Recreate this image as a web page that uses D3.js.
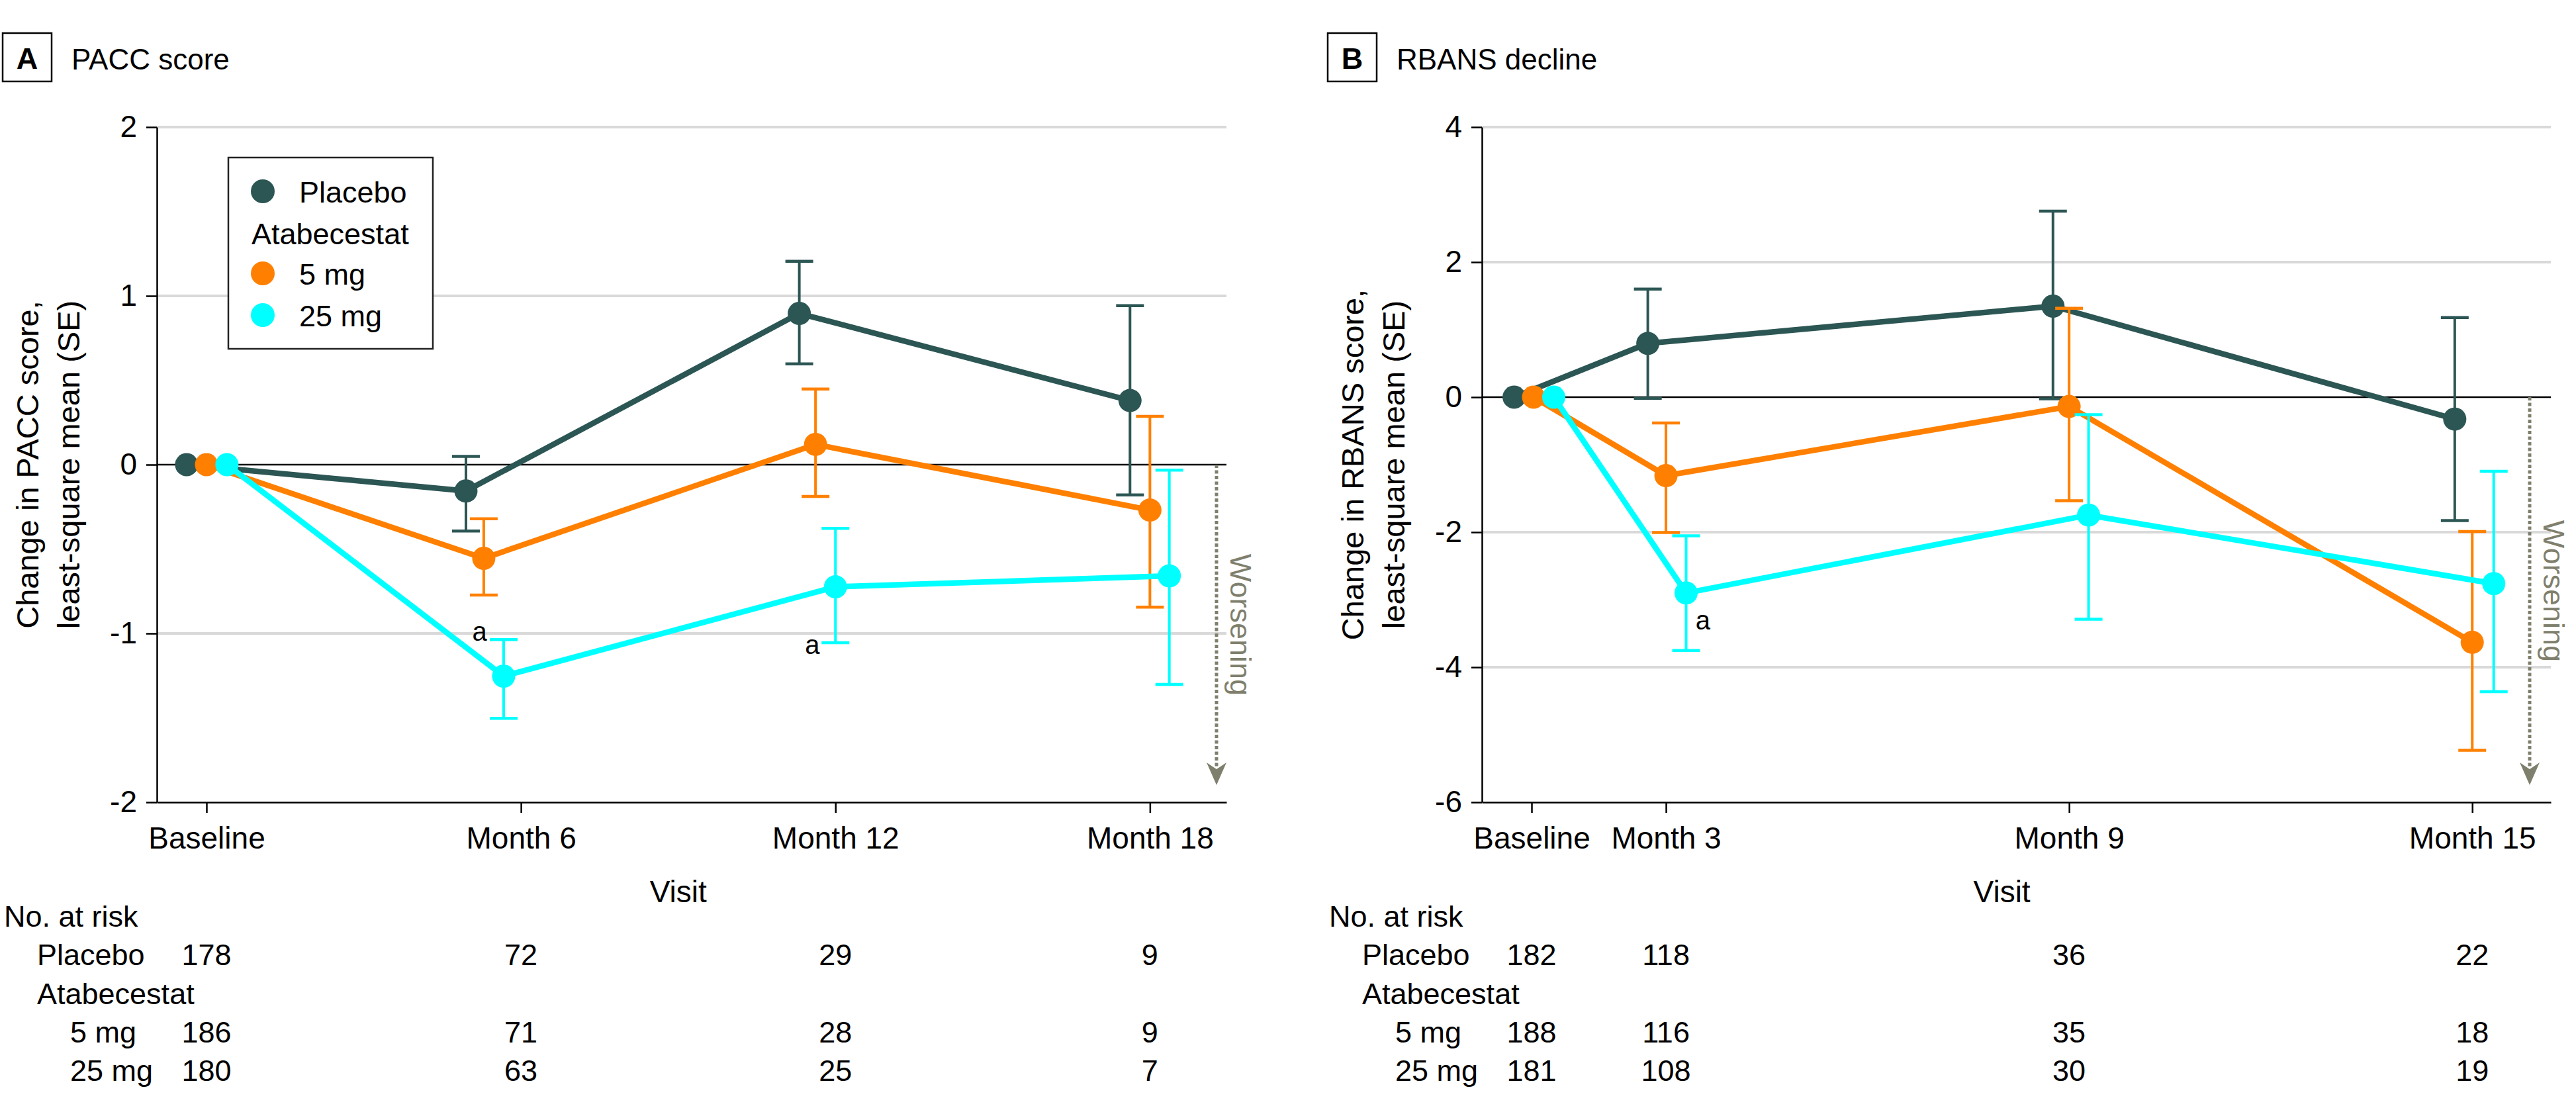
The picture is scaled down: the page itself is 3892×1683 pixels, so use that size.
<!DOCTYPE html>
<html><head><meta charset="utf-8">
<script src="https://cdn.jsdelivr.net/npm/d3@7"></script>
<style>
body{margin:0;background:#fff}
svg{display:block}
</style>
</head><body>
<svg id="chart" width="3892" height="1683"></svg>
<script>
// ================= DATA =================
const seriesNames = ["Placebo", "5 mg", "25 mg"];
const seriesColors = ["#2c5654", "#ff8000", "#00ffff"];

// ---- Panel A: PACC score ----
const visitLabelsA = ["Baseline", "Month 6", "Month 12", "Month 18"];
const visitPosA = [0, 6, 12, 18];
const yTicksA = [-2, -1, 0, 1, 2];
const placeboXA = [-0.38, 4.95, 11.31, 17.62];
const mg5XA = [0, 5.29, 11.62, 18.0];
const mg25XA = [0.39, 5.67, 12.0, 18.37];
const placeboMeanA = [0, -0.156, 0.896, 0.380];
const placeboLoA = [0, -0.393, 0.597, -0.179];
const placeboHiA = [0, 0.049, 1.205, 0.942];
const mg5MeanA = [0, -0.555, 0.120, -0.269];
const mg5LoA = [0, -0.773, -0.188, -0.844];
const mg5HiA = [0, -0.321, 0.448, 0.286];
const mg25MeanA = [0, -1.253, -0.724, -0.659];
const mg25LoA = [0, -1.503, -1.055, -1.302];
const mg25HiA = [0, -1.036, -0.377, -0.032];
const atRiskPlaceboA = [178, 72, 29, 9];
const atRiskMg5A = [186, 71, 28, 9];
const atRiskMg25A = [180, 63, 25, 7];
const notesA = [{x: 5.21, y: -1.043, text: "a"}, {x: 11.56, y: -1.122, text: "a"}];

// ---- Panel B: RBANS decline ----
const visitLabelsB = ["Baseline", "Month 3", "Month 9", "Month 15"];
const visitPosB = [1, 3, 9, 15];
const yTicksB = [-6, -4, -2, 0, 2, 4];
const placeboXB = [0.74, 2.73, 8.76, 14.74];
const mg5XB = [1.03, 3, 9, 15];
const mg25XB = [1.33, 3.30, 9.29, 15.32];
const placeboMeanB = [0, 0.796, 1.348, -0.325];
const placeboLoB = [0, -0.016, -0.024, -1.828];
const placeboHiB = [0, 1.600, 2.754, 1.178];
const mg5MeanB = [0, -1.162, -0.138, -3.631];
const mg5LoB = [0, -2.006, -1.535, -5.231];
const mg5HiB = [0, -0.382, 1.316, -1.990];
const mg25MeanB = [0, -2.900, -1.747, -2.762];
const mg25LoB = [0, -3.753, -3.290, -4.362];
const mg25HiB = [0, -2.055, -0.260, -1.097];
const atRiskPlaceboB = [182, 118, 36, 22];
const atRiskMg5B = [188, 116, 35, 18];
const atRiskMg25B = [181, 108, 30, 19];
const notesB = [{x: 3.55, y: -3.44, text: "a"}];

// ================= DRAWING =================
const FONT = "'Liberation Sans', Arial, sans-serif";
const svg = d3.select("#chart");

function buildSeries(xs, means, los, his) {
  return xs.map((xv, i) => ({x: xv, v: means[i], lo: los[i], hi: his[i]}));
}

const panels = [
  {
    letter: "A", title: "PACC score", ox: 0, left: 237, right: 1853, top: 192, bottom: 1212,
    xDomain: [-0.947, 19.46], yDomain: [-2, 2], yTicks: yTicksA,
    ticks: visitPosA, tickLabels: visitLabelsA,
    yLabel: ["Change in PACC score,", "least-square mean (SE)"],
    series: [
      buildSeries(placeboXA, placeboMeanA, placeboLoA, placeboHiA),
      buildSeries(mg5XA, mg5MeanA, mg5LoA, mg5HiA),
      buildSeries(mg25XA, mg25MeanA, mg25LoA, mg25HiA)
    ],
    atRisk: [atRiskPlaceboA, atRiskMg5A, atRiskMg25A],
    notes: notesA, arrowInset: 15, legend: true
  },
  {
    letter: "B", title: "RBANS decline", ox: 2002, left: 2239, right: 3854, top: 192, bottom: 1212,
    xDomain: [0.261, 16.17], yDomain: [-6, 4], yTicks: yTicksB,
    ticks: visitPosB, tickLabels: visitLabelsB,
    yLabel: ["Change in RBANS score,", "least-square mean (SE)"],
    series: [
      buildSeries(placeboXB, placeboMeanB, placeboLoB, placeboHiB),
      buildSeries(mg5XB, mg5MeanB, mg5LoB, mg5HiB),
      buildSeries(mg25XB, mg25MeanB, mg25LoB, mg25HiB)
    ],
    atRisk: [atRiskPlaceboB, atRiskMg5B, atRiskMg25B],
    notes: notesB, arrowInset: 32, legend: false
  }
];

function drawPanel(p) {
  const g = svg.append("g").attr("font-family", FONT);
  const x = d3.scaleLinear().domain(p.xDomain).range([p.left, p.right]);
  const y = d3.scaleLinear().domain(p.yDomain).range([p.bottom, p.top]);
  const midY = (p.top + p.bottom) / 2;

  // panel letter box + title
  g.append("rect").attr("x", p.ox + 4).attr("y", 50).attr("width", 74).attr("height", 73)
    .attr("fill", "none").attr("stroke", "#000").attr("stroke-width", 2.5);
  g.append("text").attr("x", p.ox + 41).attr("y", 104).attr("text-anchor", "middle")
    .attr("font-size", 45).attr("font-weight", "bold").text(p.letter);
  g.append("text").attr("x", p.ox + 108).attr("y", 105).attr("font-size", 44).text(p.title);

  // gridlines
  g.selectAll("line.grid").data(p.yTicks.filter(v => v !== 0 && v !== p.yDomain[0])).join("line")
    .attr("class", "grid")
    .attr("x1", p.left).attr("x2", p.right)
    .attr("y1", d => y(d)).attr("y2", d => y(d))
    .attr("stroke", "#d9d9d9").attr("stroke-width", 4);

  // zero line
  g.append("line").attr("x1", p.left).attr("x2", p.right).attr("y1", y(0)).attr("y2", y(0))
    .attr("stroke", "#000").attr("stroke-width", 2.5);

  // axes
  const ya = g.append("g").attr("transform", `translate(${p.left},0)`)
    .call(d3.axisLeft(y).tickValues(p.yTicks).tickSize(16).tickSizeOuter(0).tickPadding(14)
      .tickFormat(d => String(d)));
  const xa = g.append("g").attr("transform", `translate(0,${p.bottom})`)
    .call(d3.axisBottom(x).tickValues(p.ticks).tickSize(16).tickSizeOuter(0).tickPadding(21)
      .tickFormat((d, i) => p.tickLabels[i]));
  [ya, xa].forEach(a => {
    a.attr("font-family", FONT).attr("font-size", 46);
    a.selectAll("path.domain").attr("stroke", "#000").attr("stroke-width", 2.5);
    a.selectAll(".tick line").attr("stroke", "#000").attr("stroke-width", 2.5);
    a.selectAll(".tick text").attr("fill", "#000");
  });

  // y label
  p.yLabel.forEach((t, i) => {
    g.append("text").attr("transform", `translate(${p.left - 179 + i * 62},${midY}) rotate(-90)`)
      .attr("text-anchor", "middle").attr("font-size", 47).text(t);
  });

  // Visit label
  const xMid = (x(p.ticks[0]) + x(p.ticks[p.ticks.length - 1])) / 2;
  g.append("text").attr("x", xMid).attr("y", 1363).attr("text-anchor", "middle")
    .attr("font-size", 46).text("Visit");

  // worsening arrow
  const ax = p.right - p.arrowInset;
  const tipY = p.bottom - 26;
  const wcol = "#7f7f6d";
  g.append("line").attr("x1", ax).attr("x2", ax).attr("y1", y(0)).attr("y2", tipY - 28)
    .attr("stroke", wcol).attr("stroke-width", 5).attr("stroke-dasharray", "5,3.5");
  g.append("path")
    .attr("d", `M${ax},${tipY} L${ax - 15},${tipY - 34} L${ax},${tipY - 24} L${ax + 15},${tipY - 34} Z`)
    .attr("fill", wcol);
  g.append("text").attr("transform", `translate(${ax + 21},${(y(0) + tipY) / 2}) rotate(90)`)
    .attr("text-anchor", "middle").attr("font-size", 45).attr("fill", wcol).text("Worsening");

  // series
  const line = d3.line().x(d => x(d.x)).y(d => y(d.v));
  p.series.forEach((s, si) => {
    const col = seriesColors[si];
    const sg = g.append("g");
    const eb = s.filter(d => d.hi !== d.lo);
    sg.selectAll("line.eb").data(eb).join("line").attr("class", "eb")
      .attr("x1", d => x(d.x)).attr("x2", d => x(d.x))
      .attr("y1", d => y(d.lo)).attr("y2", d => y(d.hi))
      .attr("stroke", col).attr("stroke-width", 4);
    ["lo", "hi"].forEach(k => {
      sg.selectAll("line.cap" + k).data(eb).join("line").attr("class", "cap" + k)
        .attr("x1", d => x(d.x) - 21).attr("x2", d => x(d.x) + 21)
        .attr("y1", d => y(d[k])).attr("y2", d => y(d[k]))
        .attr("stroke", col).attr("stroke-width", 4.5);
    });
    sg.append("path").datum(s).attr("d", line).attr("fill", "none")
      .attr("stroke", col).attr("stroke-width", 8.5).attr("stroke-linejoin", "round");
    sg.selectAll("circle").data(s).join("circle")
      .attr("cx", d => x(d.x)).attr("cy", d => y(d.v)).attr("r", 17.5).attr("fill", col);
  });

  // annotations
  g.selectAll("text.note").data(p.notes).join("text").attr("class", "note")
    .attr("x", d => x(d.x)).attr("y", d => y(d.y)).attr("text-anchor", "middle")
    .attr("font-size", 40).text(d => d.text);

  // legend
  if (p.legend) {
    const lg = g.append("g");
    lg.append("rect").attr("x", 345).attr("y", 238).attr("width", 309).attr("height", 289)
      .attr("fill", "#fff").attr("stroke", "#222").attr("stroke-width", 2.5);
    const rows = [
      {type: "s", i: 0, cy: 289},
      {type: "h", text: "Atabecestat", cy: 352},
      {type: "s", i: 1, cy: 413},
      {type: "s", i: 2, cy: 476}
    ];
    rows.forEach(r => {
      if (r.type === "s") {
        lg.append("circle").attr("cx", 397).attr("cy", r.cy).attr("r", 18).attr("fill", seriesColors[r.i]);
        lg.append("text").attr("x", 452).attr("y", r.cy + 17).attr("font-size", 45).text(seriesNames[r.i]);
      } else {
        lg.append("text").attr("x", 380).attr("y", r.cy + 17).attr("font-size", 45).text(r.text);
      }
    });
  }

  // number at risk table
  const tg = g.append("g").attr("font-size", 45);
  tg.append("text").attr("x", p.ox + 6).attr("y", 1400).text("No. at risk");
  tg.append("text").attr("x", p.ox + 56).attr("y", 1458).text(seriesNames[0]);
  tg.append("text").attr("x", p.ox + 56).attr("y", 1517).text("Atabecestat");
  tg.append("text").attr("x", p.ox + 106).attr("y", 1575).text(seriesNames[1]);
  tg.append("text").attr("x", p.ox + 106).attr("y", 1633).text(seriesNames[2]);
  const rowY = [1458, 1575, 1633];
  p.atRisk.forEach((vals, ri) => {
    tg.selectAll(null).data(vals).join("text")
      .attr("x", (d, i) => x(p.ticks[i])).attr("y", rowY[ri]).attr("text-anchor", "middle")
      .text(d => d);
  });
}

panels.forEach(drawPanel);
</script>
</body></html>
